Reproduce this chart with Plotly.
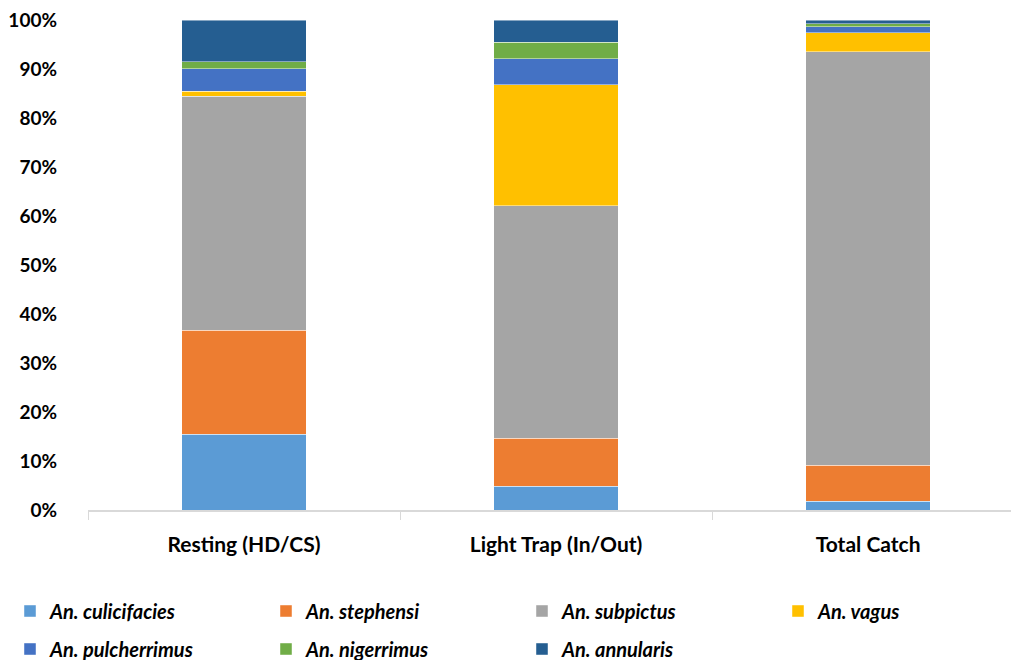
import plotly.graph_objects as go

# Survey methods (x categories)
methods = ["Resting (HD/CS)", "Light Trap (In/Out)", "Total Catch"]

# Species composition, % of catch per method
species = [
    "An. culicifacies", "An. stephensi", "An. subpictus", "An. vagus",
    "An. pulcherrimus", "An. nigerrimus", "An. annularis",
]
culicifacies = [15.5, 4.8, 1.8]
stephensi = [21.3, 9.8, 7.3]
subpictus = [47.8, 47.5, 84.4]
vagus = [1.0, 24.7, 3.9]
pulcherrimus = [4.6, 5.3, 1.2]
nigerrimus = [1.5, 3.4, 0.6]
annularis = [8.5, 4.5, 0.8]

series = [culicifacies, stephensi, subpictus, vagus, pulcherrimus, nigerrimus, annularis]
colors = ["#5B9BD5", "#ED7D31", "#A5A5A5", "#FFC000", "#4472C4", "#70AD47", "#255E91"]

FONT = "Lato"
W, H = 1011, 660

# legend grid: 4 columns, 2 rows (pixel anchors in the page)
col_x = [10, 266, 522, 778]
row_y = [611, 649]

fig = go.Figure()
legends = {}
for i, (name, vals, col) in enumerate(zip(species, series, colors)):
    total = [sum(s[j] for s in series) for j in range(len(methods))]
    frac = [v / t for v, t in zip(vals, total)]
    key = "legend" if i == 0 else f"legend{i + 1}"
    fig.add_trace(go.Bar(
        x=methods, y=frac, name=name,
        marker=dict(color=col, line=dict(color="rgba(255,255,255,0.45)", width=1)),
        width=0.4,
        legend=key,
        hoverinfo="skip",
    ))
    legends[key] = dict(
        orientation="h", xref="container", yref="container",
        xanchor="left", yanchor="middle",
        x=col_x[i % 4] / W, y=1 - row_y[i // 4] / H,
        font=dict(family=FONT, size=20, color="#000000", style="italic", weight="bold"),
        bgcolor="rgba(0,0,0,0)",
    )

fig.update_layout(
    barmode="stack",
    width=W, height=H,
    margin=dict(l=88, r=0, t=20, b=150),
    paper_bgcolor="white", plot_bgcolor="white",
    font=dict(family=FONT, size=17, color="#000000"),
    bargap=0.6,
    showlegend=True,
    xaxis=dict(
        type="category", range=[-0.5, 2.458],
        showline=True, linecolor="#D9D9D9", linewidth=1.5,
        ticks="outside", tickson="boundaries", ticklen=8, tickcolor="#D9D9D9",
        tickfont=dict(family=FONT, size=21, color="#000000", weight="bold"),
        ticklabelstandoff=15,
        showgrid=False,
    ),
    yaxis=dict(
        range=[0, 1], tickvals=[i / 10 for i in range(11)],
        tickformat=".0%", showgrid=False, zeroline=False, showline=False,
        tickfont=dict(family=FONT, size=19, color="#000000", weight="bold"),
        ticklabelstandoff=30,
    ),
    **legends,
)

fig.write_html("out.html")
